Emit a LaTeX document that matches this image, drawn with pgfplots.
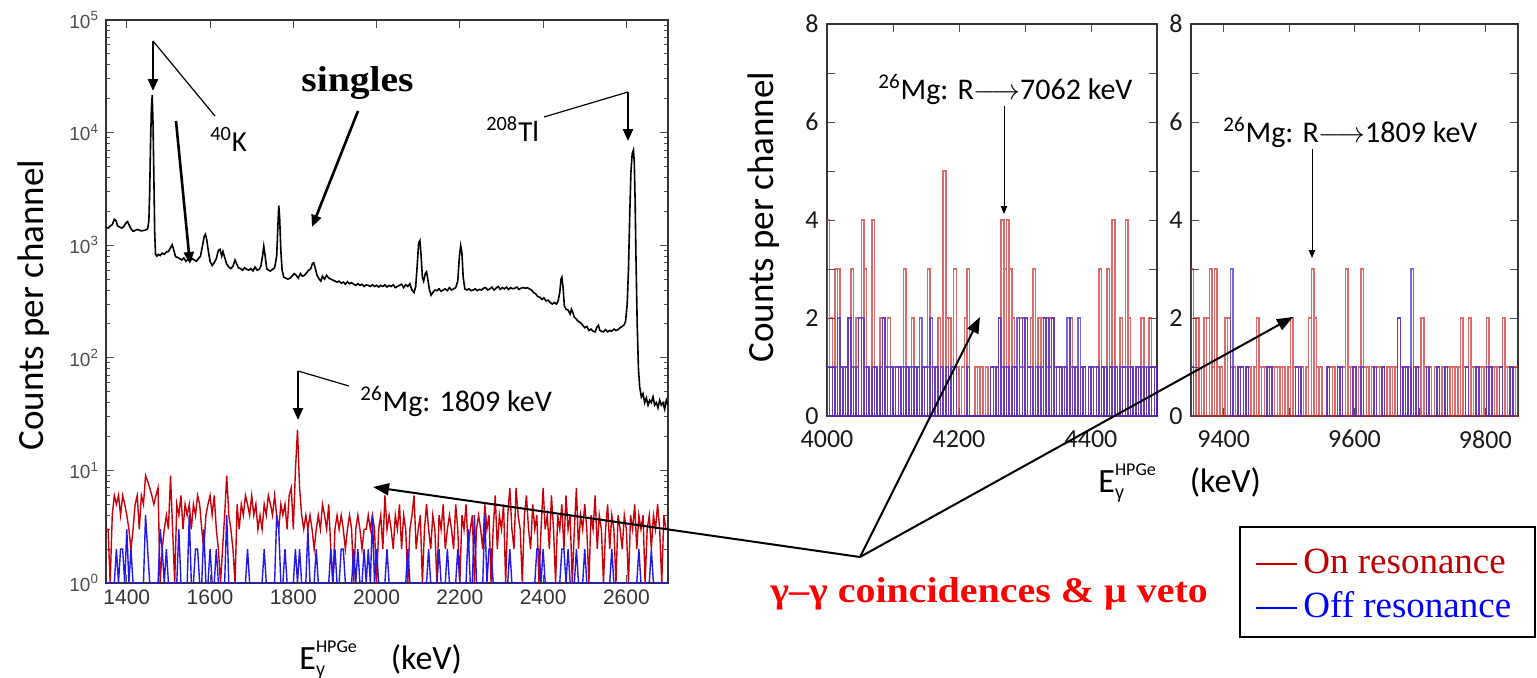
\documentclass[border=0pt]{standalone}
\usepackage{fontspec}
\setmainfont{Carlito}
\newfontfamily\arialf{Liberation Sans}
\newfontfamily\timesf{Liberation Serif}
\usepackage{pgfplots}
\pgfplotsset{compat=1.18}
\usetikzlibrary{arrows.meta}

\newcommand\fs[1]{\fontsize{#1}{#1}\selectfont}
\definecolor{onred}{RGB}{200,0,10}
\definecolor{offblue}{RGB}{35,25,230}
\definecolor{hred}{RGB}{205,45,45}
\definecolor{hblue}{RGB}{60,40,215}
\definecolor{legred}{RGB}{192,0,0}
\definecolor{legblue}{RGB}{0,0,255}
\definecolor{gg}{RGB}{255,0,0}

% x label: E with gamma subscript and HPGe superscript
\newcommand\Elab{E\rlap{\raisebox{-0.2em}{\fs{9}\arialf γ}}\raisebox{0.5em}{\fs{9}HPGe}\hspace{1em}(keV)}

\pgfplotsset{
  spec/.style={scale only axis, tick align=inside,
    axis line style={black!80, line width=0.7pt},
    tick style={black!70, line width=0.5pt},
    major tick length=4pt, minor tick length=2.2pt},
  hist/.style={ybar, bar width=4, bar shift=0pt, fill=none, draw=#1,
    draw opacity=0.7, line width=0.75pt},
  coinc/.style={tick label style={font=\fs{13}, text=black!90, inner sep=1pt},
    x tick label style={yshift=-6pt},
    y tick label style={xshift=-3pt}},
}

\begin{document}
\begin{tikzpicture}[x=0.5pt,y=0.5pt]
\useasboundingbox (0,0) rectangle (1537,677);

% ---------------- singles and coincidence spectrum, 1350-2700 keV
\begin{axis}[spec, at={(53pt,47pt)}, anchor=south west,
  width=281pt, height=281.5pt,
  xmin=1350, xmax=2700, ymode=log, ymin=1, ymax=1e5,
  xtick={1400,1600,1800,2000,2200,2400,2600},
  xticklabels={1400,1600,1800,2000,2200,2400,2600},
  ytick={1,10,100,1000,10000,100000},
  yticklabels={10\textsuperscript{0},10\textsuperscript{1},10\textsuperscript{2},10\textsuperscript{3},10\textsuperscript{4},10\textsuperscript{5}},
  minor ytick={2,3,4,5,6,7,8,9,20,30,40,50,60,70,80,90,200,300,400,500,600,700,800,900,2000,3000,4000,5000,6000,7000,8000,9000,20000,30000,40000,50000,60000,70000,80000,90000},
  x tick label style={font=\arialf\fs{10.5}, text=black!80},
  y tick label style={font=\arialf\fs{9.5}, text=black!70},
]
% singles
\addplot[black, line width=0.8pt] coordinates {
(1350,1450)(1355,1420)(1360,1480)(1365,1520)(1370,1700)(1374,1650)(1378,1480)(1383,1450)(1388,1420)(1393,1470)
(1398,1580)(1402,1620)(1406,1500)(1410,1400)(1415,1330)(1420,1350)(1425,1380)(1430,1360)(1435,1340)(1440,1350)
(1445,1360)(1450,1400)(1453,1650)(1455,3000)(1457,8000)(1459,16000)(1461,21500)(1463,12000)(1465,4000)(1467,1300)
(1469,830)(1472,800)(1476,830)(1480,810)(1485,850)(1490,830)(1495,870)(1500,880)(1505,950)(1509,1010)
(1513,900)(1517,790)(1522,780)(1527,760)(1532,740)(1537,770)(1542,720)(1547,750)(1552,730)(1557,760)
(1562,740)(1567,720)(1572,760)(1577,800)(1582,1000)(1586,1200)(1589,1250)(1592,1120)(1596,880)(1600,720)
(1605,660)(1610,700)(1615,760)(1620,900)(1624,920)(1628,800)(1631,880)(1635,780)(1640,680)(1645,640)
(1650,620)(1655,650)(1660,740)(1664,680)(1668,630)(1673,620)(1678,600)(1683,630)(1688,610)(1693,600)
(1698,620)(1703,590)(1708,640)(1713,600)(1718,610)(1722,650)(1726,800)(1729,980)(1732,820)(1736,620)
(1740,600)(1745,590)(1750,610)(1755,630)(1760,800)(1763,1500)(1765,2250)(1767,1800)(1770,900)(1773,600)
(1777,520)(1782,510)(1787,500)(1792,510)(1797,530)(1802,560)(1807,540)(1812,510)(1817,560)(1822,530)
(1827,540)(1832,570)(1837,600)(1842,620)(1846,690)(1849,700)(1853,620)(1857,540)(1862,500)(1866,480)
(1870,530)(1875,500)(1880,540)(1885,510)(1890,500)(1895,490)(1900,480)(1905,470)(1910,480)(1915,460)
(1920,470)(1925,450)(1930,475)(1935,455)(1940,465)(1945,450)(1950,440)(1955,455)(1960,440)(1965,450)
(1970,430)(1975,445)(1980,440)(1985,430)(1990,445)(1995,430)(2000,440)(2005,425)(2010,440)(2015,430)
(2020,445)(2025,425)(2030,440)(2035,430)(2040,445)(2045,420)(2050,430)(2055,440)(2060,450)(2065,420)
(2070,445)(2075,430)(2080,455)(2085,400)(2090,380)(2094,430)(2098,700)(2101,1050)(2104,1100)(2107,800)
(2110,520)(2113,480)(2117,560)(2120,580)(2123,500)(2127,400)(2131,360)(2135,380)(2140,400)(2145,395)
(2150,410)(2155,390)(2160,400)(2165,410)(2170,395)(2175,420)(2180,400)(2185,410)(2190,420)(2195,480)
(2199,800)(2202,990)(2205,850)(2208,520)(2212,410)(2217,400)(2222,410)(2227,395)(2232,400)(2237,410)
(2242,395)(2247,405)(2252,400)(2257,415)(2262,420)(2267,400)(2272,410)(2277,425)(2282,400)(2287,415)
(2292,430)(2297,405)(2302,420)(2307,410)(2312,425)(2317,405)(2322,420)(2327,410)(2332,415)(2337,425)
(2342,405)(2347,415)(2352,420)(2357,415)(2362,420)(2367,410)(2372,400)(2377,380)(2382,370)(2387,350)
(2392,345)(2397,330)(2402,340)(2407,320)(2412,325)(2417,310)(2422,300)(2427,310)(2432,300)(2436,320)
(2440,380)(2443,500)(2445,520)(2448,420)(2451,290)(2455,270)(2460,265)(2465,245)(2468,270)(2471,255)
(2475,230)(2480,220)(2485,210)(2490,205)(2495,195)(2500,185)(2505,190)(2510,175)(2515,180)(2520,172)
(2525,170)(2530,190)(2533,195)(2536,175)(2540,172)(2545,170)(2550,178)(2555,170)(2560,175)(2565,172)
(2570,180)(2575,175)(2580,178)(2585,185)(2590,190)(2594,195)(2598,210)(2602,300)(2605,600)(2608,1800)
(2611,4500)(2614,6500)(2617,7000)(2619,5500)(2621,2500)(2623,800)(2626,200)(2629,80)(2632,55)(2636,45)
(2640,48)(2644,40)(2648,44)(2652,38)(2656,42)(2660,40)(2664,45)(2668,38)(2672,40)(2676,36)
(2680,42)(2684,38)(2688,40)(2692,35)(2696,42)(2700,38)
};
% coincidences, on resonance (5 keV channels from 1350 keV)
\addplot[onred, line width=0.7pt] table[header=false, row sep=\\, x expr=1350+5*\coordindex, y index=0] {
3\\3\\1\\4\\6\\5\\6\\4\\6\\5\\
4\\3\\2\\3\\5\\6\\3\\6\\5\\9\\
8\\7\\6\\5\\6\\7\\1\\2\\3\\4\\
3\\9\\3\\1\\5\\4\\6\\3\\5\\4\\
5\\3\\5\\4\\6\\5\\3\\2\\4\\5\\
6\\4\\6\\3\\2\\1\\2\\4\\9\\4\\
3\\2\\1\\5\\3\\5\\4\\6\\5\\4\\
6\\4\\5\\3\\4\\3\\5\\4\\6\\5\\
4\\6\\4\\3\\5\\4\\5\\3\\6\\7\\
3\\10\\23\\7\\4\\3\\4\\3\\4\\3\\
2\\3\\4\\3\\5\\4\\3\\5\\2\\1\\
3\\4\\3\\4\\3\\2\\3\\4\\3\\1\\
3\\4\\3\\2\\3\\3\\4\\3\\4\\3\\
1\\3\\4\\2\\6\\3\\4\\3\\2\\4\\
3\\5\\2\\4\\3\\1\\3\\4\\6\\2\\
3\\4\\1\\3\\5\\3\\2\\4\\3\\1\\
4\\3\\5\\2\\3\\4\\3\\2\\5\\3\\
1\\4\\3\\5\\2\\3\\4\\1\\3\\4\\
3\\2\\5\\3\\4\\1\\3\\6\\2\\4\\
3\\5\\1\\4\\7\\3\\2\\7\\4\\3\\
1\\4\\6\\3\\2\\5\\3\\4\\1\\3\\
7\\3\\4\\2\\6\\3\\1\\4\\3\\5\\
2\\6\\3\\4\\1\\3\\7\\2\\4\\3\\
5\\3\\1\\4\\3\\6\\2\\4\\3\\1\\
3\\5\\2\\4\\3\\1\\4\\3\\2\\4\\
3\\1\\4\\3\\5\\2\\4\\3\\4\\1\\
3\\4\\2\\4\\3\\5\\3\\1\\4\\3\\
3\\
};
% coincidences, off resonance
\addplot[offblue, line width=0.7pt] table[header=false, row sep=\\, x expr=1350+5*\coordindex, y index=0] {
1\\1\\1\\1\\1\\2\\1\\2\\2\\1\\
3\\1\\2\\1\\1\\1\\1\\1\\1\\4\\
2\\1\\1\\1\\1\\1\\3\\2\\1\\2\\
1\\1\\1\\1\\1\\3\\1\\1\\1\\1\\
4\\1\\1\\2\\2\\1\\1\\3\\1\\1\\
2\\1\\1\\2\\1\\1\\1\\1\\4\\1\\
1\\1\\1\\1\\1\\1\\1\\1\\2\\1\\
1\\1\\1\\1\\1\\1\\2\\1\\1\\1\\
1\\1\\4\\3\\1\\1\\2\\1\\1\\1\\
1\\2\\1\\2\\1\\1\\1\\3\\1\\1\\
1\\2\\1\\1\\1\\1\\1\\1\\2\\1\\
2\\1\\1\\2\\2\\1\\1\\1\\1\\2\\
1\\2\\1\\1\\2\\1\\2\\1\\4\\1\\
2\\1\\1\\1\\1\\2\\1\\1\\1\\1\\
1\\1\\1\\1\\1\\2\\1\\1\\1\\1\\
1\\1\\1\\1\\1\\2\\1\\1\\1\\1\\
2\\1\\1\\1\\2\\1\\1\\1\\1\\2\\
1\\1\\1\\1\\3\\1\\1\\4\\1\\1\\
1\\1\\4\\1\\2\\2\\1\\1\\1\\1\\
1\\1\\1\\1\\2\\1\\1\\1\\1\\1\\
1\\1\\1\\1\\1\\1\\1\\2\\2\\1\\
2\\1\\1\\1\\1\\1\\1\\1\\1\\2\\
2\\1\\2\\1\\1\\1\\2\\1\\1\\1\\
2\\1\\1\\1\\1\\1\\1\\1\\1\\1\\
1\\1\\1\\2\\1\\1\\1\\1\\1\\1\\
1\\1\\1\\1\\1\\1\\2\\1\\1\\1\\
1\\1\\2\\1\\1\\1\\1\\1\\1\\1\\
1\\
};
\end{axis}

% ---------------- coincidences, 4000-4500 keV (4 keV channels)
\begin{axis}[spec, coinc, at={(413.5pt,130.5pt)}, anchor=south west,
  width=165pt, height=196pt,
  xmin=4000, xmax=4500, ymin=0, ymax=8,
  xtick={4000,4100,4200,4300,4400,4500}, xticklabels={4000,,4200,,4400,},
  ytick={0,1,2,3,4,5,6,7,8}, yticklabels={0,,2,,4,,6,,8},
]
\addplot[hist=hred]
 table[header=false, row sep=\\, x expr=4002+4*\coordindex, y index=0] {
4\\2\\1\\3\\3\\1\\0\\1\\2\\3\\
1\\2\\0\\4\\3\\1\\0\\4\\1\\0\\
2\\2\\1\\2\\1\\0\\1\\1\\0\\3\\
1\\0\\2\\1\\1\\0\\1\\1\\3\\1\\
0\\1\\2\\0\\5\\2\\2\\1\\3\\1\\
0\\1\\2\\3\\0\\0\\1\\1\\1\\0\\
1\\0\\1\\0\\1\\2\\4\\3\\4\\3\\
2\\1\\0\\2\\1\\2\\1\\2\\3\\0\\
2\\2\\2\\1\\2\\2\\0\\1\\1\\0\\
1\\0\\2\\1\\1\\0\\1\\1\\0\\1\\
1\\0\\1\\3\\1\\0\\3\\1\\4\\1\\
0\\2\\1\\4\\2\\1\\0\\1\\1\\2\\
1\\0\\2\\1\\1\\
};
\addplot[hist=hblue]
 table[header=false, row sep=\\, x expr=4002+4*\coordindex, y index=0] {
1\\1\\1\\1\\2\\1\\1\\1\\2\\1\\
0\\1\\2\\2\\1\\1\\0\\1\\1\\0\\
1\\2\\1\\1\\1\\1\\1\\1\\1\\1\\
1\\1\\1\\1\\1\\2\\1\\1\\1\\2\\
1\\1\\0\\1\\0\\1\\0\\1\\1\\0\\
0\\0\\0\\1\\0\\0\\0\\0\\0\\0\\
0\\0\\1\\1\\1\\2\\1\\1\\1\\0\\
1\\1\\2\\1\\2\\2\\1\\1\\0\\1\\
1\\1\\2\\2\\1\\2\\1\\1\\1\\1\\
1\\2\\1\\1\\1\\2\\1\\1\\0\\1\\
1\\1\\1\\0\\1\\1\\0\\1\\1\\1\\
0\\1\\1\\1\\1\\1\\0\\1\\1\\1\\
0\\1\\1\\1\\1\\
};
\end{axis}

% ---------------- coincidences, 9350-9850 keV (4 keV channels)
\begin{axis}[spec, coinc, at={(595.5pt,130.5pt)}, anchor=south west,
  width=163.5pt, height=196pt,
  xmin=9350, xmax=9850, ymin=0, ymax=8,
  xtick={9400,9500,9600,9700,9800}, xticklabels={9400,,9600,,9800},
  ytick={0,1,2,3,4,5,6,7,8}, yticklabels={0,,2,,4,,6,,8},
]
\addplot[hist=hred]
 table[header=false, row sep=\\, x expr=9352+4*\coordindex, y index=0] {
3\\2\\2\\0\\1\\2\\2\\3\\1\\3\\
1\\1\\0\\2\\2\\1\\1\\0\\1\\1\\
0\\1\\1\\0\\1\\2\\1\\1\\1\\1\\
1\\1\\1\\1\\1\\1\\0\\1\\2\\1\\
1\\0\\1\\0\\1\\2\\3\\2\\1\\1\\
0\\0\\1\\1\\1\\0\\1\\1\\1\\3\\
1\\1\\1\\0\\1\\3\\1\\1\\0\\1\\
0\\1\\1\\1\\0\\1\\1\\1\\1\\2\\
1\\1\\1\\1\\0\\1\\1\\1\\2\\1\\
0\\1\\0\\1\\1\\0\\1\\0\\1\\1\\
1\\1\\1\\2\\1\\1\\2\\1\\1\\1\\
1\\1\\1\\2\\1\\1\\1\\1\\1\\2\\
1\\1\\1\\1\\1\\
};
\addplot[hist=hblue] coordinates {
(9352,1)(9412,3)(9424,1)(9428,1)(9436,1)(9468,1)(9472,1)(9512,1)(9516,1)(9560,1)
(9576,1)(9580,1)(9600,1)(9612,1)(9632,1)(9644,1)(9668,2)(9676,1)(9680,1)(9688,3)
(9696,1)(9712,1)(9728,1)(9740,1)(9772,1)(9788,1)(9804,1)(9808,1)(9824,1)(9840,1)
};
\end{axis}

% ---------------- axis titles
\node[rotate=90, font=\fs{18.5}] at (34,372) {Counts per channel};
\node[rotate=90, font=\fs{18.5}] at (764,460) {Counts per channel};
\node[anchor=base west, font=\fs{17}, inner sep=0] at (299,8) {\Elab};
\node[anchor=base west, font=\fs{17}, inner sep=0] at (1098,185) {\Elab};

% ---------------- annotations, singles panel
\draw[line width=0.6pt] (215,561) -- (153,636);
\draw[line width=1.3pt, -{Triangle[length=6pt,width=5pt]}] (153,636) -- (153,586);
\draw[line width=1.3pt, -{Triangle[length=6pt,width=5pt]}] (176,556) -- (190,413);
\node[anchor=base west, font=\fs{14.5}, inner sep=0] at (210,526) {\textsuperscript{40}K};
\node[anchor=base west, font=\timesf\bfseries\fs{18}, inner sep=0] at (301,586) {\scalebox{1.1}[1]{singles}};
\draw[line width=1.3pt, -{Triangle[length=6pt,width=5pt]}] (358,566) -- (312,450);
\node[anchor=base west, font=\fs{14.5}, inner sep=0] at (486,536) {\textsuperscript{208}Tl};
\draw[line width=0.6pt] (544,560) -- (628,585);
\draw[line width=1.3pt, -{Triangle[length=6pt,width=5pt]}] (628,585) -- (628,536);
\node[anchor=base west, font=\fs{15}, inner sep=0] at (360,266) {\textsuperscript{26}Mg: 1809 keV};
\draw[line width=0.6pt] (349,291) -- (298,306);
\draw[line width=1.3pt, -{Triangle[length=6pt,width=5pt]}] (298,306) -- (298,257);

% ---------------- annotations, coincidence panels
\node[anchor=base west, font=\fs{15}, inner sep=0] at (878,578) {\textsuperscript{26}Mg: R$\longrightarrow$7062 keV};
\draw[line width=0.5pt, -{Triangle[length=4pt,width=3.2pt]}] (1004,571) -- (1004,463);
\node[anchor=base west, font=\fs{15}, inner sep=0] at (1223,535) {\textsuperscript{26}Mg: R$\longrightarrow$1809 keV};
\draw[line width=0.5pt, -{Triangle[length=4pt,width=3.2pt]}] (1312,528) -- (1312,419);

% ---------------- common label with converging arrows
\draw[line width=1pt, -{Triangle[length=8pt,width=6pt]}] (860,120) -- (373,190);
\draw[line width=1pt, -{Triangle[length=8pt,width=6pt]}] (860,120) -- (980,360);
\draw[line width=1pt, -{Triangle[length=8pt,width=6pt]}] (860,120) -- (1293,360);
\node[anchor=base west, font=\timesf\bfseries\fs{18}, text=gg, inner sep=0] at (770,75) {\scalebox{1.11}[1]{γ–γ coincidences \& μ veto}};

% ---------------- legend
\draw[line width=0.8pt] (1240,40) rectangle (1535,150);
\draw[legred, line width=0.6pt] (1256,113) -- (1297,113);
\node[anchor=base west, font=\timesf\fs{18.5}, text=legred, inner sep=0] at (1303,104) {On resonance};
\draw[legblue, line width=0.6pt] (1256,69) -- (1297,69);
\node[anchor=base west, font=\timesf\fs{18.5}, text=legblue, inner sep=0] at (1303,60) {Off resonance};
\end{tikzpicture}
\end{document}
